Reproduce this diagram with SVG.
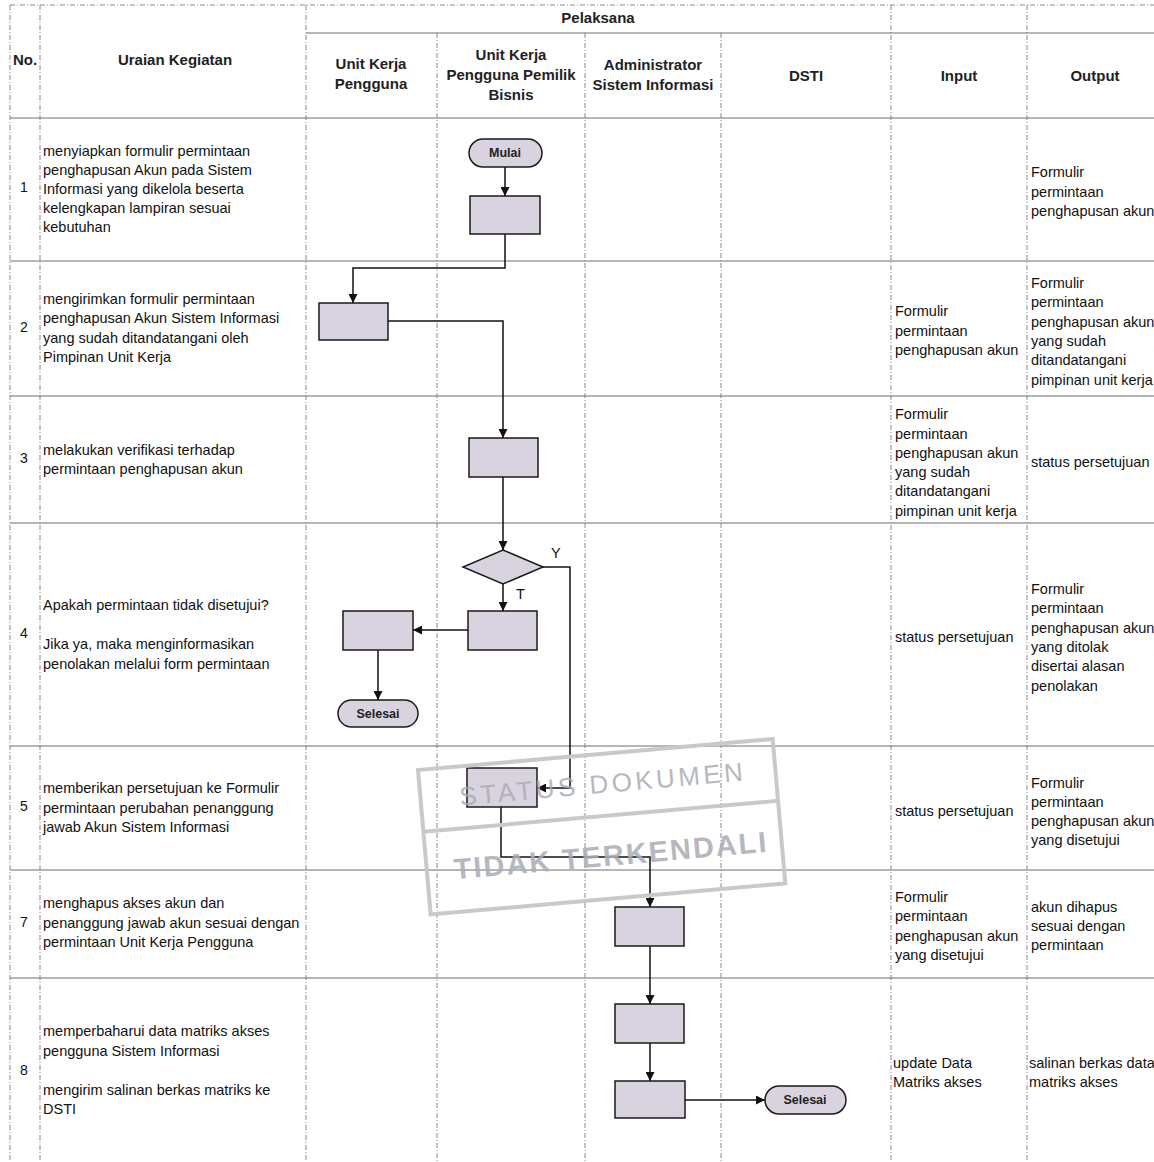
<svg xmlns="http://www.w3.org/2000/svg" width="1154" height="1162" viewBox="0 0 1154 1162">
<defs>
<marker id="arr" viewBox="0 0 10 10" refX="10" refY="5" markerWidth="9" markerHeight="9" markerUnits="userSpaceOnUse" orient="auto"><path d="M0,0 L10,5 L0,10 z" fill="#111"/></marker>
<style>
.hl{stroke:#6e6e6e;stroke-width:1;fill:none}
.vl{stroke:#8a8a8a;stroke-width:1;stroke-dasharray:5 2 1 2;fill:none}
.t{font-family:"Liberation Sans",Arial,sans-serif;font-size:14.5px;fill:#111}
.h{font-family:"Liberation Sans",Arial,sans-serif;font-size:15px;font-weight:bold;fill:#222;text-anchor:middle}
.n{font-family:"Liberation Sans",Arial,sans-serif;font-size:14px;fill:#111;text-anchor:middle}
.box{fill:#d9d2df;stroke:#1a1a1a;stroke-width:1.5}
.pl{font-family:"Liberation Sans",Arial,sans-serif;font-size:12.5px;font-weight:bold;fill:#222;text-anchor:middle}
.c{stroke:#111;stroke-width:1.5;fill:none;marker-end:url(#arr)}
.wm{font-family:"Liberation Sans",Arial,sans-serif;fill:#a9adb5;opacity:0.85}
</style>
</defs>
<rect width="1154" height="1162" fill="#fff"/>
<g id="grid">
<line class="vl" x1="10" y1="5" x2="10" y2="1162"/>
<line class="vl" x1="40" y1="5" x2="40" y2="1162"/>
<line class="vl" x1="306" y1="5" x2="306" y2="1162"/>
<line class="vl" x1="437" y1="33" x2="437" y2="1162"/>
<line class="vl" x1="585" y1="33" x2="585" y2="1162"/>
<line class="vl" x1="721" y1="33" x2="721" y2="1162"/>
<line class="vl" x1="891" y1="5" x2="891" y2="1162"/>
<line class="vl" x1="1027" y1="5" x2="1027" y2="1162"/>
<line class="vl" x1="10" y1="5" x2="1154" y2="5"/>
<line class="hl" x1="306" y1="33" x2="1154" y2="33"/>
<line class="hl" x1="10" y1="118" x2="1154" y2="118"/>
<line class="hl" x1="10" y1="261" x2="1154" y2="261"/>
<line class="hl" x1="10" y1="396" x2="1154" y2="396"/>
<line class="hl" x1="10" y1="523" x2="1154" y2="523"/>
<line class="hl" x1="10" y1="746" x2="1154" y2="746"/>
<line class="hl" x1="10" y1="870" x2="1154" y2="870"/>
<line class="hl" x1="10" y1="978" x2="1154" y2="978"/>
</g>
<g id="header">
<text class="h" x="598" y="23">Pelaksana</text>
<text class="h" x="25" y="65">No.</text>
<text class="h" x="175" y="65">Uraian Kegiatan</text>
<text class="h" x="371" y="69">Unit Kerja</text>
<text class="h" x="371" y="89">Pengguna</text>
<text class="h" x="511" y="60">Unit Kerja</text>
<text class="h" x="511" y="80">Pengguna Pemilik</text>
<text class="h" x="511" y="100">Bisnis</text>
<text class="h" x="653" y="70">Administrator</text>
<text class="h" x="653" y="90">Sistem Informasi</text>
<text class="h" x="806" y="81">DSTI</text>
<text class="h" x="959" y="81">Input</text>
<text class="h" x="1095" y="81">Output</text>
</g>
<g id="rowtext">
<text class="n" x="24" y="192">1</text>
<text class="t" x="43" y="156">menyiapkan formulir permintaan</text>
<text class="t" x="43" y="175">penghapusan Akun pada Sistem</text>
<text class="t" x="43" y="194">Informasi yang dikelola beserta</text>
<text class="t" x="43" y="213">kelengkapan lampiran sesuai</text>
<text class="t" x="43" y="232">kebutuhan</text>
<text class="t" x="1031" y="177">Formulir</text>
<text class="t" x="1031" y="197">permintaan</text>
<text class="t" x="1031" y="216">penghapusan akun</text>

<text class="n" x="24" y="332">2</text>
<text class="t" x="43" y="304">mengirimkan formulir permintaan</text>
<text class="t" x="43" y="323">penghapusan Akun Sistem Informasi</text>
<text class="t" x="43" y="343">yang sudah ditandatangani oleh</text>
<text class="t" x="43" y="362">Pimpinan Unit Kerja</text>
<text class="t" x="895" y="316">Formulir</text>
<text class="t" x="895" y="336">permintaan</text>
<text class="t" x="895" y="355">penghapusan akun</text>
<text class="t" x="1031" y="288">Formulir</text>
<text class="t" x="1031" y="307">permintaan</text>
<text class="t" x="1031" y="327">penghapusan akun</text>
<text class="t" x="1031" y="346">yang sudah</text>
<text class="t" x="1031" y="365">ditandatangani</text>
<text class="t" x="1031" y="385">pimpinan unit kerja</text>

<text class="n" x="24" y="463">3</text>
<text class="t" x="43" y="455">melakukan verifikasi terhadap</text>
<text class="t" x="43" y="474">permintaan penghapusan akun</text>
<text class="t" x="895" y="419">Formulir</text>
<text class="t" x="895" y="439">permintaan</text>
<text class="t" x="895" y="458">penghapusan akun</text>
<text class="t" x="895" y="477">yang sudah</text>
<text class="t" x="895" y="496">ditandatangani</text>
<text class="t" x="895" y="516">pimpinan unit kerja</text>
<text class="t" x="1031" y="467">status persetujuan</text>

<text class="n" x="24" y="638">4</text>
<text class="t" x="43" y="610">Apakah permintaan tidak disetujui?</text>
<text class="t" x="43" y="649">Jika ya, maka menginformasikan</text>
<text class="t" x="43" y="669">penolakan melalui form permintaan</text>
<text class="t" x="895" y="642">status persetujuan</text>
<text class="t" x="1031" y="594">Formulir</text>
<text class="t" x="1031" y="613">permintaan</text>
<text class="t" x="1031" y="633">penghapusan akun</text>
<text class="t" x="1031" y="652">yang ditolak</text>
<text class="t" x="1031" y="671">disertai alasan</text>
<text class="t" x="1031" y="691">penolakan</text>

<text class="n" x="24" y="811">5</text>
<text class="t" x="43" y="793">memberikan persetujuan ke Formulir</text>
<text class="t" x="43" y="813">permintaan perubahan penanggung</text>
<text class="t" x="43" y="832">jawab Akun Sistem Informasi</text>
<text class="t" x="895" y="816">status persetujuan</text>
<text class="t" x="1031" y="788">Formulir</text>
<text class="t" x="1031" y="807">permintaan</text>
<text class="t" x="1031" y="826">penghapusan akun</text>
<text class="t" x="1031" y="845">yang disetujui</text>

<text class="n" x="24" y="927">7</text>
<text class="t" x="43" y="908">menghapus akses akun dan</text>
<text class="t" x="43" y="928">penanggung jawab akun sesuai dengan</text>
<text class="t" x="43" y="947">permintaan Unit Kerja Pengguna</text>
<text class="t" x="895" y="902">Formulir</text>
<text class="t" x="895" y="921">permintaan</text>
<text class="t" x="895" y="941">penghapusan akun</text>
<text class="t" x="895" y="960">yang disetujui</text>
<text class="t" x="1031" y="912">akun dihapus</text>
<text class="t" x="1031" y="931">sesuai dengan</text>
<text class="t" x="1031" y="950">permintaan</text>

<text class="n" x="24" y="1075">8</text>
<text class="t" x="43" y="1036">memperbaharui data matriks akses</text>
<text class="t" x="43" y="1056">pengguna Sistem Informasi</text>
<text class="t" x="43" y="1095">mengirim salinan berkas matriks ke</text>
<text class="t" x="43" y="1114">DSTI</text>
<text class="t" x="893" y="1068">update Data</text>
<text class="t" x="893" y="1087">Matriks akses</text>
<text class="t" x="1029" y="1068">salinan berkas data</text>
<text class="t" x="1029" y="1087">matriks akses</text>
</g>
<g id="connectors">
<path class="c" d="M505,167 V196"/>
<path class="c" d="M505,234 V268 H353 V303"/>
<path class="c" d="M388,321 H503 V438"/>
<path class="c" d="M503,477 V550"/>
<path class="c" d="M543,567 H570 V788 H537"/>
<path class="c" d="M503,584 V611"/>
<path class="c" d="M468,630 H413"/>
<path class="c" d="M378,650 V700"/>
<path class="c" d="M501,807 V857 H650 V907"/>
<path class="c" d="M650,946 V1004"/>
<path class="c" d="M650,1043 V1081"/>
<path class="c" d="M685,1100 H765"/>
<text class="t" x="551" y="558" font-size="13">Y</text>
<text class="t" x="516" y="599" font-size="13">T</text>
</g>
<g id="mulai"><rect class="box" x="469" y="139" width="73" height="28" rx="14"/><text class="pl" x="505" y="157">Mulai</text></g>
<g id="box1"><rect class="box" x="470" y="196" width="70" height="38"/></g>
<g id="box2"><rect class="box" x="319" y="303" width="69" height="37"/></g>
<g id="box3"><rect class="box" x="469" y="438" width="69" height="39"/></g>
<g id="decision"><path class="box" d="M503,550 L543,567 L503,584 L463,567 z"/></g>
<g id="box4b"><rect class="box" x="468" y="611" width="69" height="39"/></g>
<g id="box4a"><rect class="box" x="343" y="611" width="70" height="39"/></g>
<g id="selesai1"><rect class="box" x="338" y="700" width="80" height="27" rx="13.5"/><text class="pl" x="378" y="718">Selesai</text></g>
<g id="box5"><rect class="box" x="467" y="768" width="70" height="39"/></g>
<g id="box7"><rect class="box" x="615" y="907" width="69" height="39"/></g>
<g id="box8a"><rect class="box" x="615" y="1004" width="69" height="39"/></g>
<g id="box8b"><rect class="box" x="615" y="1081" width="70" height="37"/></g>
<g id="selesai2"><rect class="box" x="765" y="1086" width="81" height="28" rx="14"/><text class="pl" x="805" y="1104">Selesai</text></g>
<g id="watermark" transform="rotate(-5 418 770)">
<rect x="418" y="770" width="356" height="145" fill="none" stroke="#c9c9c9" stroke-width="4"/>
<line x1="418" y1="832" x2="774" y2="832" stroke="#c9c9c9" stroke-width="4"/>
<text class="wm" x="457" y="809" font-size="26" letter-spacing="3.5">STATUS DOKUMEN</text>
<text class="wm" x="445" y="882" font-size="29" font-weight="bold" letter-spacing="2" fill="#a3a3a3">TIDAK TERKENDALI</text>
</g>
</svg>
